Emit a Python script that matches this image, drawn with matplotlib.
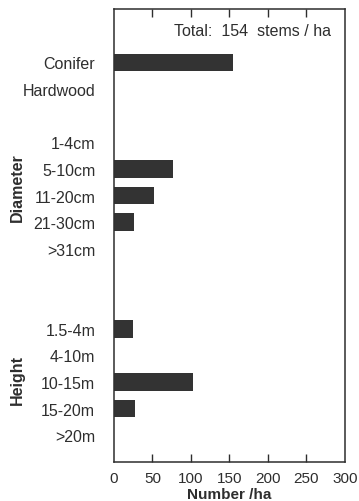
import matplotlib
matplotlib.use("Agg")
import matplotlib.pyplot as plt

plt.rcParams['font.family'] = ['Liberation Sans', 'DejaVu Sans']

# Stems per hectare by category
type_labels = ["Conifer", "Hardwood"]
type_values = [154, 0]

diameter_labels = ["1-4cm", "5-10cm", "11-20cm", "21-30cm", ">31cm"]
diameter_values = [0, 76, 52, 26, 0]

height_labels = ["1.5-4m", "4-10m", "10-15m", "15-20m", ">20m"]
height_values = [25, 0, 102, 27, 0]

total_stems = 154
x_ticks = [0, 50, 100, 150, 200, 250, 300]

# Row layout: groups separated by blank rows
groups = [(type_labels, type_values, 2),
          (diameter_labels, diameter_values, 5),
          (height_labels, height_values, 12)]

ink = "#2e2e2e"
bar_color = "#333333"
fs = 11.5
fs_x = 11

fig = plt.figure(figsize=(3.59, 5.02), dpi=100)
ax = fig.add_axes([0.3175, 0.0777, 0.6435, 0.9023])

labels, rows = [], []
for names, vals, start in groups:
    ys = [start + i for i in range(len(names))]
    ax.barh(ys, vals, height=0.66, color=bar_color, edgecolor="none")
    labels += names
    rows += ys

ax.set_ylim(17, 0)
ax.set_xlim(0, 300)
ax.set_yticks(rows)
ax.set_yticklabels(labels, fontsize=fs, color=ink)
ax.tick_params(axis='y', length=0, pad=13.5)

ax.set_xticks(x_ticks)
ax.set_xticklabels([str(v) for v in x_ticks], fontsize=fs_x, color=ink)
ax.tick_params(axis='x', direction='in', length=6, width=1, color=ink,
               top=True, labeltop=False, pad=6.5)

for s in ax.spines.values():
    s.set_color(ink)
    s.set_linewidth(1.1)

# the end ticks coincide with the frame
for tick in ax.xaxis.get_major_ticks():
    if tick.get_loc() in (0, 300):
        tick.tick1line.set_visible(False)
        tick.tick2line.set_visible(False)

ax.text(0.94, 0.97, f"Total:  {total_stems}  stems / ha", transform=ax.transAxes,
        ha='right', va='top', fontsize=fs, color=ink)

# axis title placed in figure pixels so it stays inside the canvas
x_mid = 0.3175 + 0.6435 / 2
fig.text(x_mid, 3 / 502, "Number /ha", ha='center', va='baseline',
         fontsize=fs_x, fontweight='bold', color=ink)

fig.text(17 / 359, 1 - 188 / 502, "Diameter", rotation=90, ha='center', va='center',
         fontsize=fs, fontweight='bold', color=ink)
fig.text(17 / 359, 1 - 380 / 502, "Height", rotation=90, ha='center', va='center',
         fontsize=fs, fontweight='bold', color=ink)

fig.savefig("out.png", dpi=100)
